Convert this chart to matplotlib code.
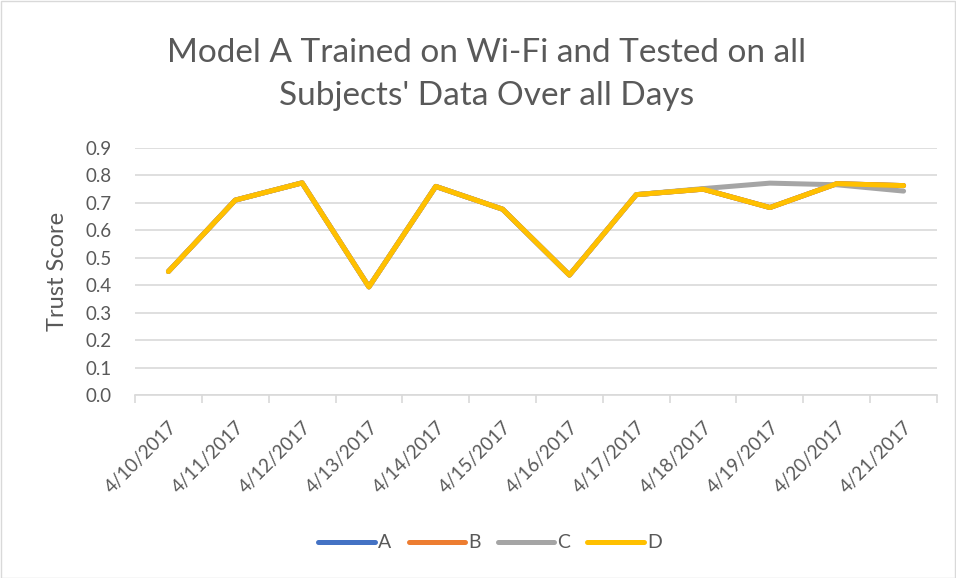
import matplotlib
matplotlib.use("Agg")
import matplotlib.pyplot as plt
from matplotlib.lines import Line2D
from matplotlib.transforms import ScaledTranslation
import numpy as np

dates = ["4/10/2017", "4/11/2017", "4/12/2017", "4/13/2017", "4/14/2017", "4/15/2017",
         "4/16/2017", "4/17/2017", "4/18/2017", "4/19/2017", "4/20/2017", "4/21/2017"]
series_A = [0.45, 0.71, 0.773, 0.394, 0.76, 0.677, 0.437, 0.73, 0.75, 0.683, 0.77, 0.763]
series_B = [0.45, 0.71, 0.773, 0.394, 0.76, 0.677, 0.437, 0.73, 0.75, 0.683, 0.77, 0.763]
series_C = [0.45, 0.71, 0.773, 0.394, 0.76, 0.677, 0.437, 0.73, 0.752, 0.772, 0.766, 0.743]
series_D = [0.45, 0.71, 0.773, 0.394, 0.76, 0.677, 0.437, 0.73, 0.75, 0.683, 0.77, 0.763]
names = ["A", "B", "C", "D"]
colors = ["#4472C4", "#ED7D31", "#A5A5A5", "#FFC000"]
yticks = [0.0, 0.1, 0.2, 0.3, 0.4, 0.5, 0.6, 0.7, 0.8, 0.9]
title_lines = ["Model A Trained on Wi-Fi and Tested on all", "Subjects' Data Over all Days"]

plt.rcParams['font.family'] = ['Lato', 'DejaVu Sans']
txt = "#595959"
grid = "#D9D9D9"

fig = plt.figure(figsize=(9.56, 5.78), dpi=100)
fig.patches.append(plt.Rectangle((0.5/956, 0.5/578), 1 - 1.5/956, 1 - 1.5/578,
                                 transform=fig.transFigure, fill=False,
                                 edgecolor="#D9D9D9", lw=1))
ax = fig.add_axes([135/956, 1 - 395/578, (937 - 135)/956, (395 - 148)/578])

x = np.arange(len(dates))
for vals, name, c in zip([series_A, series_B, series_C, series_D], names, colors):
    ax.plot(x, vals, color=c, lw=3.6, solid_capstyle='round', solid_joinstyle='round',
            label=name, zorder=3)

ax.set_xlim(-0.5, len(dates) - 0.5)
ax.set_ylim(0, 0.9)
ax.set_yticks(yticks)
ax.set_yticklabels([f"{v:.1f}" for v in yticks], color=txt, fontsize=13.5)
ax.tick_params(axis='y', length=0, pad=17)
ax.grid(axis='y', color=grid, lw=1.2, zorder=0)
ax.set_axisbelow(True)

ax.set_xticks(x)
labels = ax.set_xticklabels(dates, rotation=45, ha='right', va='top',
                            rotation_mode='anchor', color=txt, fontsize=13.5)
shift = ScaledTranslation(3/100, 0, fig.dpi_scale_trans)
for lb in labels:
    lb.set_transform(lb.get_transform() + shift)
ax.tick_params(axis='x', which='major', length=0, pad=17)
ax.set_xticks(np.arange(-0.5, len(dates)), minor=True)
ax.tick_params(axis='x', which='minor', length=6, color=grid, width=1.2)

for s in ["top", "right", "left"]:
    ax.spines[s].set_visible(False)
ax.spines["bottom"].set_color(grid)
ax.spines["bottom"].set_linewidth(1.2)

ax.set_ylabel("Trust Score", color=txt, fontsize=17)
ax.yaxis.set_label_coords(58/956, 1 - 271/578, transform=fig.transFigure)
ax.yaxis.label.set_va('center')

fig.text(487/956, 1 - 62/578, title_lines[0], ha='center', va='baseline', color=txt, fontsize=24)
fig.text(487/956, 1 - 105/578, title_lines[1], ha='center', va='baseline', color=txt, fontsize=24)

handles = [Line2D([0], [0], color=c, lw=3.6, solid_capstyle='round') for c in colors]
fig.legend(handles, names, loc='center', bbox_to_anchor=(490/956, 1 - 543/578), ncol=4,
           frameon=False, fontsize=14, handlelength=2.9, handletextpad=0.15,
           columnspacing=0.9, labelcolor=txt)

fig.savefig("out.png", dpi=100)
